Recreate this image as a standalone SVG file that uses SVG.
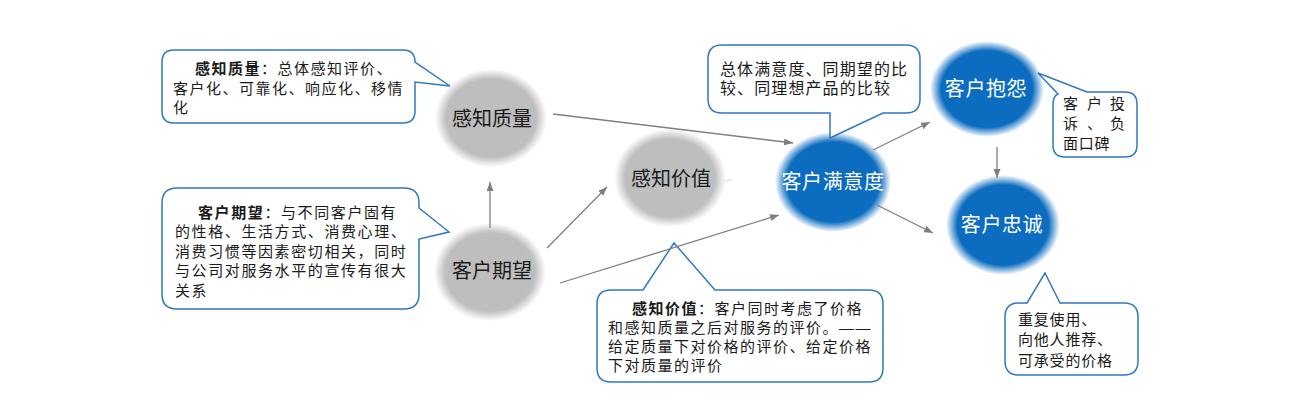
<svg xmlns="http://www.w3.org/2000/svg" width="1300" height="414" viewBox="0 0 1300 414">
<defs>
<radialGradient id="gGray" cx="0.5" cy="0.5" r="0.5">
<stop offset="0" stop-color="#BEBEBE"/>
<stop offset="0.8" stop-color="#BEBEBE"/>
<stop offset="1" stop-color="#BEBEBE" stop-opacity="0"/>
</radialGradient>
<radialGradient id="gBlue" cx="0.5" cy="0.5" r="0.5">
<stop offset="0" stop-color="#0B6CC0"/>
<stop offset="0.8" stop-color="#0B6CC0"/>
<stop offset="1" stop-color="#0B6CC0" stop-opacity="0"/>
</radialGradient>
<marker id="arr" markerUnits="userSpaceOnUse" markerWidth="9" markerHeight="7" refX="9" refY="3.5" orient="auto">
<path d="M0,0 L9,3.5 L0,7 Z" fill="#7F7F7F"/>
</marker>
<style>
.gray{fill:url(#gGray)}
.blue{fill:url(#gBlue)}
.lbl{font-family:"Liberation Sans","Noto Sans CJK SC",sans-serif;font-size:20px;text-anchor:middle}
.dk{fill:#1A1A1A}
.wt{fill:#FFFFFF}
.call{fill:#FFFFFF;stroke:#2F78C4;stroke-width:1.5}
.ct{font-family:"Liberation Sans","Noto Sans CJK SC",sans-serif;font-size:15px;fill:#1A1A1A}
.b{font-weight:bold}
.con{stroke:#7F7F7F;stroke-width:1.3;fill:none;marker-end:url(#arr)}
</style>
</defs>
<rect width="1300" height="414" fill="#FFFFFF"/>

<g id="node-ganzhizhiliang">
<ellipse class="gray" cx="491" cy="118" rx="56" ry="49"/>
<text class="lbl dk" x="492" y="125.5">感知质量</text>
</g>
<g id="node-kehuqiwang">
<ellipse class="gray" cx="490" cy="272" rx="56" ry="49"/>
<text class="lbl dk" x="492" y="278">客户期望</text>
</g>
<g id="node-ganzhijiazhi">
<ellipse class="gray" cx="670" cy="178" rx="56" ry="49"/>
<text class="lbl dk" x="671" y="185.5">感知价值</text>
</g>
<g id="node-kehumanyidu">
<ellipse class="blue" cx="833" cy="182" rx="58" ry="50"/>
<text class="lbl wt" x="833" y="189" letter-spacing="0.6">客户满意度</text>
</g>
<g id="node-kehubaoyuan">
<ellipse class="blue" cx="987" cy="89" rx="57" ry="48"/>
<text class="lbl wt" x="986" y="96" letter-spacing="0.6">客户抱怨</text>
</g>
<g id="node-kehuzhongcheng">
<ellipse class="blue" cx="1003" cy="225" rx="57" ry="50"/>
<text class="lbl wt" x="1002" y="231.5" letter-spacing="0.6">客户忠诚</text>
</g>

<g id="callout-ganzhizhiliang">
<path class="call" d="M174,50 H403 Q415,50 415,62 L450,86 L415,82 V111 Q415,123 403,123 H174 Q162,123 162,111 V62 Q162,50 174,50 Z"/>
<text class="ct" letter-spacing="1.5"><tspan x="195" y="74"><tspan class="b">感知质量</tspan>：总体感知评价、</tspan><tspan x="173" y="94">客户化、可靠化、响应化、移情</tspan><tspan x="173" y="113">化</tspan></text>
</g>
<g id="callout-kehuqiwang">
<path class="call" d="M177,188 H404 Q419,188 419,203 V208 L449,232 L419,239 V294 Q419,309 404,309 H177 Q162,309 162,294 V203 Q162,188 177,188 Z"/>
<text class="ct" letter-spacing="1.6"><tspan x="198" y="217.5"><tspan class="b">客户期望</tspan>：与不同客户固有</tspan><tspan x="175" y="237">的性格、生活方式、消费心理、</tspan><tspan x="175" y="256.5">消费习惯等因素密切相关，同时</tspan><tspan x="175" y="276">与公司对服务水平的宣传有很大</tspan><tspan x="175" y="295.5">关系</tspan></text>
</g>
<g id="callout-ganzhijiazhi">
<path class="call" d="M611,290 H643 L674,243 L715,290 H869 Q883,290 883,304 V368 Q883,382 869,382 H611 Q597,382 597,368 V304 Q597,290 611,290 Z"/>
<text class="ct" letter-spacing="1.5"><tspan x="632" y="313.5"><tspan class="b">感知价值</tspan>：客户同时考虑了价格</tspan><tspan x="608" y="332.5">和感知质量之后对服务的评价。——</tspan><tspan x="608" y="352">给定质量下对价格的评价、给定价格</tspan><tspan x="608" y="371">下对质量的评价</tspan></text>
</g>
<g id="callout-kehumanyidu">
<path class="call" d="M722,45 H906 Q920,45 920,59 V99 Q920,113 906,113 H883 L830,138 L830,113 H722 Q708,113 708,99 V59 Q708,45 722,45 Z"/>
<text class="ct" style="font-size:16px" letter-spacing="1.1"><tspan x="720" y="75">总体满意度、同期望的比</tspan><tspan x="720" y="94">较、同理想产品的比较</tspan></text>
</g>
<g id="callout-kehubaoyuan">
<path class="call" d="M1038,73 L1087,92 H1125 Q1137,92 1137,104 V145 Q1137,157 1125,157 H1065 Q1053,157 1053,145 V105 Q1053,96 1058,94 Z"/>
<text class="ct"><tspan x="1063 1087 1110" y="108.5">客户投</tspan><tspan x="1063 1087 1110" y="128.5">诉、负</tspan><tspan x="1063" y="148.5" letter-spacing="0.7">面口碑</tspan></text>
</g>
<g id="callout-kehuzhongcheng">
<path class="call" d="M1019,303 H1027 L1045,273 L1060,303 H1124 Q1138,303 1138,317 V361 Q1138,375 1124,375 H1019 Q1005,375 1005,361 V317 Q1005,303 1019,303 Z"/>
<text class="ct" letter-spacing="0.8"><tspan x="1018" y="324.5">重复使用、</tspan><tspan x="1018" y="344.5">向他人推荐、</tspan><tspan x="1018" y="365.5">可承受的价格</tspan></text>
</g>

<g id="connectors">
<line class="con" x1="490" y1="228" x2="490" y2="182"/>
<line class="con" x1="547" y1="248" x2="607" y2="187"/>
<line class="con" x1="560" y1="283" x2="779" y2="215"/>
<line class="con" x1="553" y1="114" x2="793" y2="143"/>
<line class="con" x1="873" y1="150" x2="930" y2="122"/>
<line class="con" x1="877" y1="205" x2="933" y2="233"/>
<line class="con" x1="997" y1="147" x2="997" y2="178"/>
<line x1="722" y1="181" x2="732" y2="180" stroke="#E6E6E6" stroke-width="1.3"/>
</g>
</svg>
